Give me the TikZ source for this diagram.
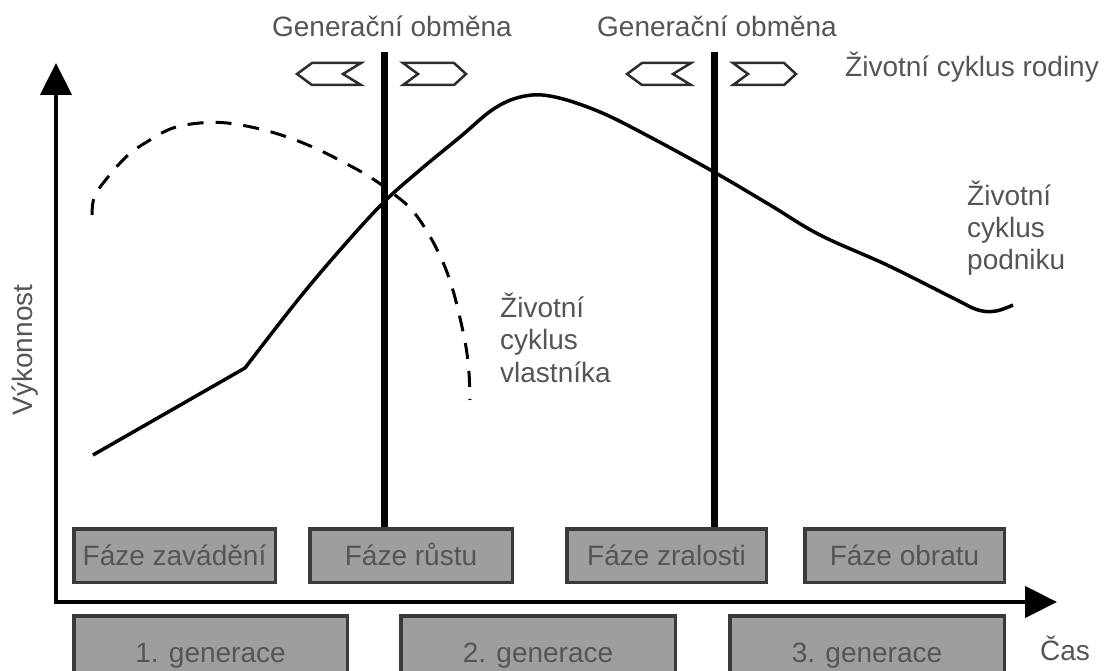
\documentclass[tikz,border=0pt]{standalone}
\usepackage{fontspec}
\setmainfont{Liberation Sans}
\usetikzlibrary{arrows.meta}
\definecolor{boxfill}{RGB}{158,158,158}
\definecolor{boxline}{RGB}{58,58,58}
\definecolor{labelgray}{RGB}{85,85,85}
\definecolor{chevline}{RGB}{45,45,45}
\begin{document}
\begin{tikzpicture}[x=1pt,y=-1pt,
  every node/.style={font=\fontsize{28}{32.5}\selectfont, text=labelgray, inner sep=0pt},
  phasebox/.style={draw=boxline, fill=boxfill, line width=3.5pt, minimum height=53.5pt,
    text height=20pt, text depth=0pt},
  genbox/.style={draw=boxline, fill=boxfill, line width=3.5pt, minimum height=72pt,
    text height=20pt, text depth=0pt},
  axis/.style={line width=4.5pt, line cap=rect, -{Triangle[length=32pt,width=31pt]}},
  handover/.style={line width=7pt},
  chevron/.style={draw=chevline, line width=2.5pt, line join=miter},
  firmcurve/.style={line width=3.5pt, line join=round},
  ownercurve/.style={line width=3pt, dash pattern=on 16pt off 12pt},
  sidelabel/.style={align=left, anchor=base west},
]
\useasboundingbox (0,0) rectangle (1104,671);

% life cycle of the owner (dashed)
\draw[ownercurve] plot[smooth, tension=0.6] coordinates {
  (92,215) (94,198) (104,182) (127,156) (150,140) (173,128) (200,123)
  (227,123) (260,129) (290,138) (317,149) (343,162) (370,177) (395,195)
  (412,210) (428,233) (442,260) (452,287) (460,318) (466,347) (469,373) (470,400)};

% life cycle of the business (solid)
\draw[firmcurve] (93,455) -- plot[smooth, tension=0.6] coordinates {
  (245,368) (297,301) (340,250) (383,203) (420,170) (460,137) (495,108)
  (525,96) (555,97) (600,112) (650,137) (714,172) (770,205) (820,235)
  (887,265) (953,298) (978,310) (996,311) (1013,305)};

% phase boxes
\node[phasebox, minimum width=201.5pt] (p1) at (174.5,555.5) {Fáze zavádění};
\node[phasebox, minimum width=202.5pt] (p2) at (411,555.5) {Fáze růstu};
\node[phasebox, minimum width=199.5pt] (p3) at (666.5,555.5) {Fáze zralosti};
\node[phasebox, minimum width=199.5pt] (p4) at (904.5,555.5) {Fáze obratu};

% generation boxes
\node[genbox, minimum width=273.5pt] (g1) at (210.5,652) {1. generace};
\node[genbox, minimum width=274.5pt] (g2) at (538,652) {2. generace};
\node[genbox, minimum width=274.5pt] (g3) at (867,652) {3. generace};

% axes
\coordinate (origin) at (56,602);
\coordinate (ytip) at (56,63);
\coordinate (xtip) at (1057,602);
\draw[axis] (origin) -- (ytip);
\draw[axis] (origin) -- (xtip);

% generation change markers
\coordinate (swap1) at (384,52);
\coordinate (swap2) at (714,52);
\draw[handover] (swap1) -- (swap1 |- p2.north);
\draw[handover] (swap2) -- (swap2 |- p3.north);
\foreach \c in {384,714} {
  \draw[chevron] ({\c-87},74) -- ({\c-72},63) -- ({\c-23},63) -- ({\c-41},74)
    -- ({\c-23},85) -- ({\c-72},85) -- cycle;
  \draw[chevron] ({\c+19},63) -- ({\c+70},63) -- ({\c+82},74) -- ({\c+70},85)
    -- ({\c+19},85) -- ({\c+34},74) -- cycle;
}

% labels
\node[anchor=base] (gen1) at (392,37) {Generační obměna};
\node[anchor=base] (gen2) at (717,37) {Generační obměna};
\node[anchor=base west] (family) at (845,77) {Životní cyklus rodiny};
\node[sidelabel] (firm) at (967,270) {Životní\\cyklus\\podniku};
\node[sidelabel] (owner) at (500,382) {Životní\\cyklus\\vlastníka};
\node[rotate=90] (perf) at (25,350) {Výkonnost};
\node[anchor=base west] (time) at (1040,660) {Čas};
\end{tikzpicture}
\end{document}
